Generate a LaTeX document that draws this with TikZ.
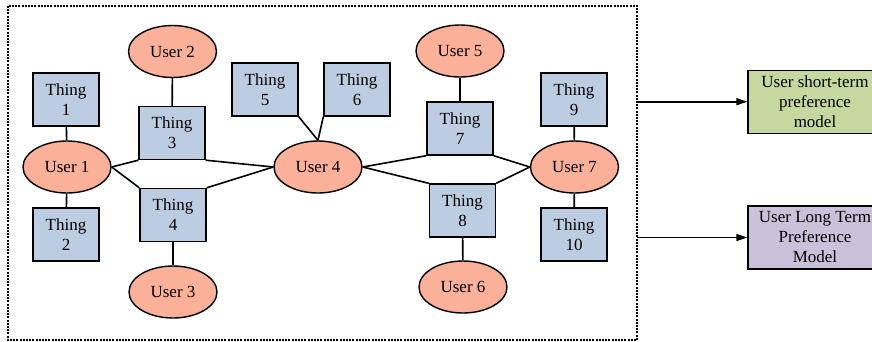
\documentclass[tikz,border=0pt]{standalone}
\usepackage{fontspec}
\setmainfont{Liberation Serif}
\usetikzlibrary{arrows.meta,shapes.geometric}
\definecolor{userfill}{RGB}{251,176,154}
\definecolor{thingfill}{RGB}{189,205,225}
\definecolor{shortfill}{RGB}{197,216,160}
\definecolor{longfill}{RGB}{204,193,218}
\tikzset{
  user/.style={ellipse, draw, line width=1.4pt, fill=userfill, minimum width=88pt, minimum height=52pt, inner sep=0pt, font=\fontsize{17}{20}\selectfont},
  thing/.style={rectangle, draw, line width=1.4pt, fill=thingfill, minimum width=66pt, minimum height=53pt, inner sep=0pt, align=center, font=\fontsize{17}{20}\selectfont},
  model/.style={rectangle, draw, line width=1.4pt, minimum width=134pt, minimum height=63pt, inner sep=0pt, align=center, font=\fontsize{17}{20}\selectfont},
  link/.style={line width=1.6pt},
  feed/.style={line width=1.6pt, -{Triangle[length=11pt,width=7pt]}},
  frame/.style={line width=1.3pt, dash pattern=on 2pt off 1.2pt}
}
\begin{document}
\begin{tikzpicture}[x=1pt, y=-1pt]
\useasboundingbox (0,0) rectangle (872,341);
% dashed frame around the user--thing graph
\draw[frame] (8,6) rectangle (637,340);
% users
\node[user] (u1) at (67,167) {User 1};
\node[user] (u2) at (172.5,51.5) {User 2};
\node[user] (u3) at (173,292) {User 3};
\node[user] (u4) at (318,167) {User 4};
\node[user] (u5) at (460,51) {User 5};
\node[user] (u6) at (463,287) {User 6};
\node[user] (u7) at (574.5,167) {User 7};
% things
\node[thing] (t1) at (66,99.5) {Thing\\1};
\node[thing] (t2) at (66,234.5) {Thing\\2};
\node[thing] (t3) at (172,133) {Thing\\3};
\node[thing] (t4) at (173,215) {Thing\\4};
\node[thing] (t5) at (265,89.5) {Thing\\5};
\node[thing] (t6) at (357,89.5) {Thing\\6};
\node[thing] (t7) at (460,128.5) {Thing\\7};
\node[thing] (t8) at (462.5,210.5) {Thing\\8};
\node[thing] (t9) at (574,99.5) {Thing\\9};
\node[thing] (t10) at (574,234.5) {Thing\\10};
% links
\draw[link] (u1) -- (t1);
\draw[link] (u1) -- (t2);
\draw[link] (u2) -- (t3);
\draw[link] (t4) -- (u3);
\draw[link] (u1.east) -- (t3.south west);
\draw[link] (t3.south east) -- (u4.west);
\draw[link] (u1.east) -- (t4.north west);
\draw[link] (t4.north east) -- (u4.west);
\draw[link] (t5.south east) -- (u4.north);
\draw[link] (t6.south west) -- (u4.north);
\draw[link] (u4.east) -- (t7.south west);
\draw[link] (t7.south east) -- (u7.west);
\draw[link] (u4.east) -- (t8.north west);
\draw[link] (t8.north east) -- (u7.west);
\draw[link] (u5) -- (t7);
\draw[link] (t8) -- (u6);
\draw[link] (t9) -- (u7);
\draw[link] (u7) -- (t10);
% preference models
\node[model, fill=shortfill] (ms) at (815,101.7) {User short-term\\preference\\model};
\node[model, fill=longfill] (ml) at (815,237.5) {User Long Term\\Preference\\Model};
\coordinate (os) at (637,101.7);
\coordinate (ol) at (637,237.5);
\draw[feed] (os) -- (ms.west);
\draw[feed] (ol) -- (ml.west);
\end{tikzpicture}
\end{document}
